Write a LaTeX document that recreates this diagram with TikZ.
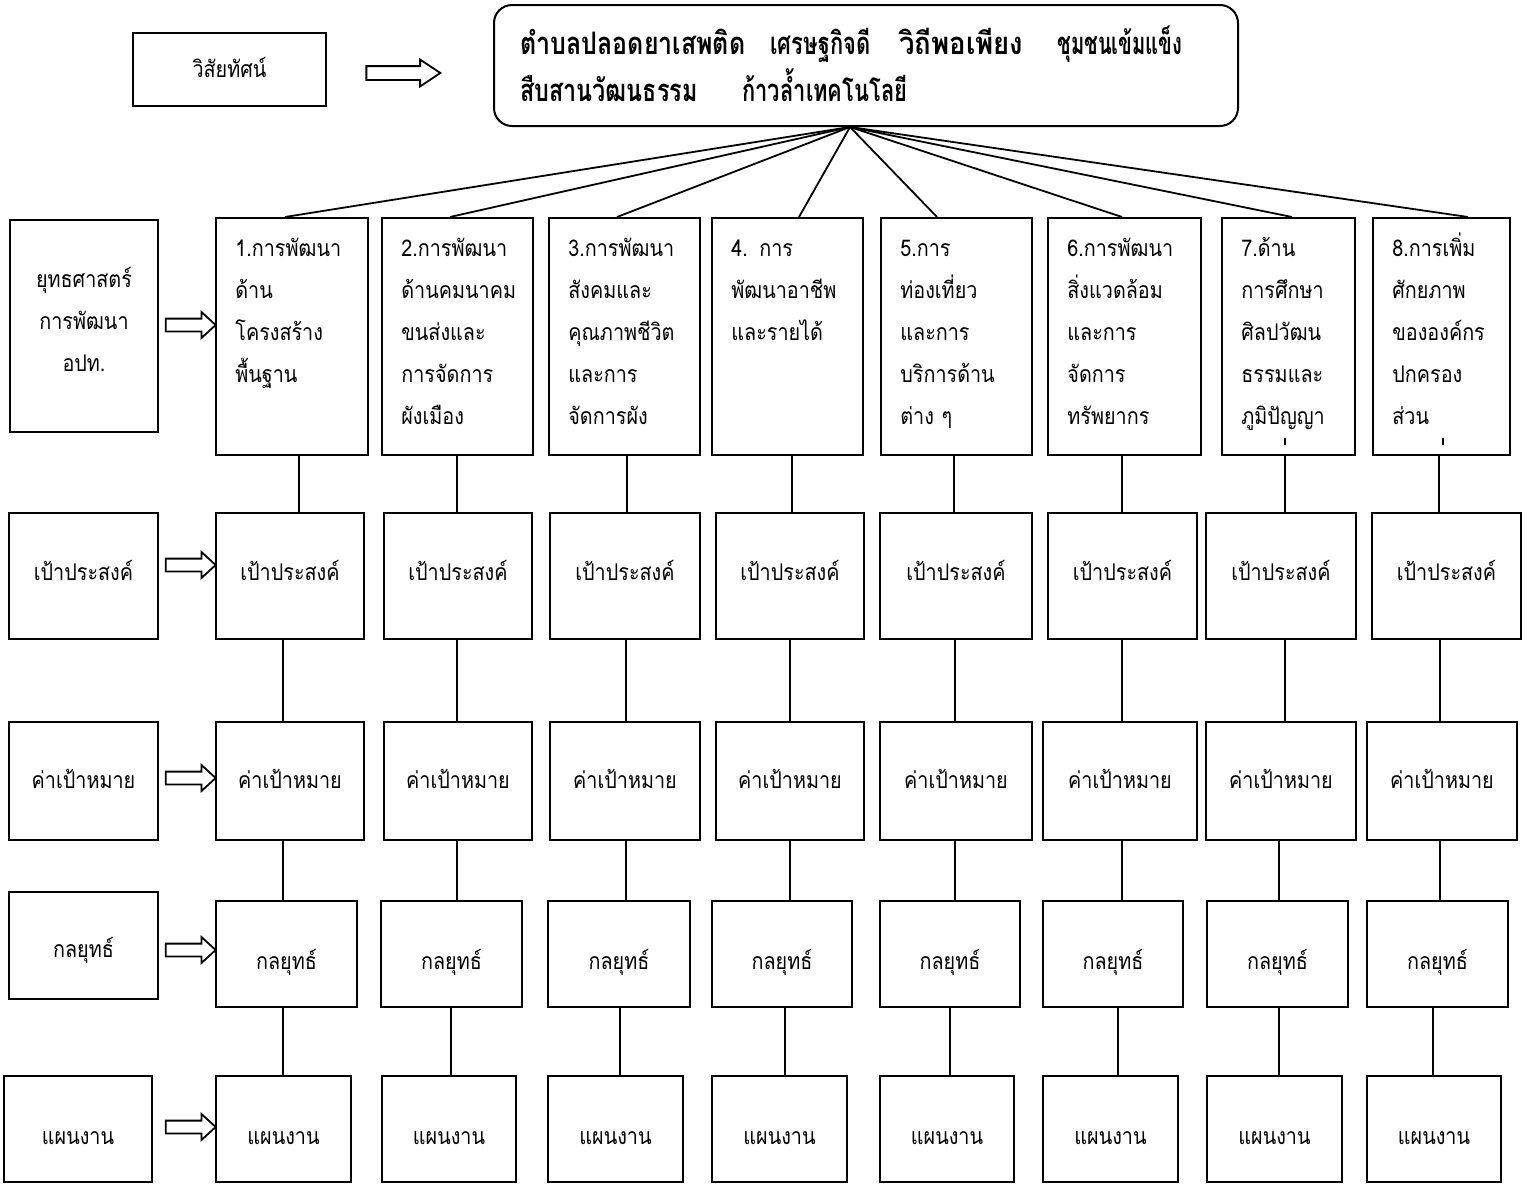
\documentclass[tikz,border=0pt]{standalone}
\usepackage{fontspec}
\usepackage{graphicx}
\newfontfamily\thaifont[Script=Thai, FakeStretch=0.86]{Loma}
\newfontfamily\thaibold[Script=Thai]{Loma}
\usetikzlibrary{shapes.arrows,calc}
\tikzset{
  bx/.style={draw, line width=1pt, inner sep=0pt},
  btext/.style={font=\thaifont\fontsize{11.5}{21}\selectfont, align=center, inner sep=0pt},
  ctext/.style={font=\thaifont\fontsize{11.5}{21}\selectfont, text width=68pt, align=left, inner sep=0pt, anchor=base west},
  toptext/.style={font=\thaibold\bfseries\fontsize{15.5}{24}\selectfont, inner sep=0pt, anchor=base west},
  conn/.style={line width=0.9pt},
  barrow/.style={draw, line width=0.9pt, single arrow, single arrow head extend=3.25pt, inner xsep=0pt, inner ysep=2.75pt, minimum height=25pt, single arrow tip angle=85, anchor=tip},
}
% \bx[text shift in pt]{name}{x1}{x2}{y1}{y2}{text}
\newcommand\bx[7][0]{%
  \node[bx,minimum width={(#4-#3)*0.5pt},minimum height={(#6-#5)*0.5pt}] (#2) at ({(#3+#4)/2},{(#5+#6)/2}) {};
  \node[btext] (#2t) at ([yshift=#1pt]#2.center) {#7};}
\newcommand\tw[2]{\resizebox{#1}{\height}{#2}}
\begin{document}
\begin{tikzpicture}[x=0.5pt,y=-0.5pt]
\useasboundingbox (0,0) rectangle (1527,1184);
% vision
\bx[1]{vis}{133}{326}{33}{106}{วิสัยทัศน์}
\node[bx, rounded corners=9pt, minimum width=372pt, minimum height=60.5pt] (top) at (866,65.5) {};
\node[toptext] (w1) at (520,54) {\tw{112.5pt}{ตำบลปลอดยาเสพติด}};
\node[toptext] (w2) at (770,54) {\tw{50pt}{เศรษฐกิจดี}};
\node[toptext] (w3) at (899,54) {\tw{62pt}{วิถีพอเพียง}};
\node[toptext] (w4) at (1057,54) {\tw{62.5pt}{ชุมชนเข้มแข็ง}};
\node[toptext] (w5) at (520,101) {\tw{88.5pt}{สืบสานวัฒนธรรม}};
\node[toptext] (w6) at (742,101) {\tw{82.5pt}{ก้าวล้ำเทคโนโลยี}};
\node[barrow, minimum height=37pt, inner ysep=3pt, single arrow tip angle=67] (va) at (442,73) {};
\coordinate (hub) at ([xshift=-8pt]top.south);
% left labels
\bx[3.5]{L1}{10}{158}{220}{432}{ยุทธศาสตร์\\การพัฒนา\\อปท.}
\bx[3]{L2}{9}{158}{513}{639}{เป้าประสงค์}
\bx[1]{L3}{9}{158}{722}{840}{ค่าเป้าหมาย}
\bx[-2.5]{L4}{9}{158}{892}{999}{กลยุทธ์}
\bx[-4.5]{L5}{4}{152}{1076}{1182}{แผนงาน}
% row 1
\foreach \i/\a/\b/\t in {
  1/216/368/{1.การพัฒนา\\ด้าน\\โครงสร้าง\\พื้นฐาน},
  2/382/533/{2.การพัฒนา\\ด้านคมนาคม\\ขนส่งและ\\การจัดการ\\ผังเมือง},
  3/549/700/{3.การพัฒนา\\สังคมและ\\คุณภาพชีวิต\\และการ\\จัดการผัง},
  4/712/863/{4. การ\\พัฒนาอาชีพ\\และรายได้},
  5/881/1032/{5.การ\\ท่องเที่ยว\\และการ\\บริการด้าน\\ต่าง ๆ},
  6/1048/1201/{6.การพัฒนา\\สิ่งแวดล้อม\\และการ\\จัดการ\\ทรัพยากร},
  7/1222/1355/{7.ด้าน\\การศึกษา\\ศิลปวัฒน\\ธรรมและ\\ภูมิปัญญา},
  8/1373/1510/{8.การเพิ่ม\\ศักยภาพ\\ขององค์กร\\ปกครอง\\ส่วน}}{
  \node[bx,minimum width={(\b-\a)*0.5pt},minimum height=118.5pt] (s\i) at ({(\a+\b)/2},336.5) {};
  \node[ctext] (s\i t) at ([shift={(10pt,-19.5pt)}]s\i.north west) {\t};
}
\draw[line width=0.9pt] ([shift={(-1.75pt,9pt)}]s7.south) -- ++(0,7);
\draw[line width=0.9pt] ([shift={(0.75pt,9pt)}]s8.south) -- ++(0,7);
% rows 2-5
\foreach \i/\a/\b in {1/216/364,2/384/532,3/550/700,4/716/864,5/880/1032,6/1048/1197,7/1206/1356,8/1372/1521}{
  \bx[3]{g\i}{\a}{\b}{513}{639}{เป้าประสงค์}}
\foreach \i/\a/\b in {1/216/364,2/384/532,3/550/700,4/716/864,5/880/1032,6/1043/1197,7/1206/1356,8/1367/1517}{
  \bx[1]{k\i}{\a}{\b}{722}{840}{ค่าเป้าหมาย}}
\foreach \i/\a/\b in {1/216/357,2/381/522,3/548/690,4/712/852,5/880/1020,6/1043/1183,7/1207/1348,8/1367/1508}{
  \bx[-4]{c\i}{\a}{\b}{901}{1007}{กลยุทธ์}}
\foreach \i/\a/\b in {1/216/351,2/382/516,3/548/683,4/712/847,5/880/1014,6/1043/1178,7/1207/1342,8/1367/1501}{
  \bx[-4.5]{p\i}{\a}{\b}{1076}{1182}{แผนงาน}}
% arrows
\node[barrow] (a1) at (217,325) {};
\node[barrow] (a2) at (217,565) {};
\node[barrow] (a3) at (217,778) {};
\node[barrow] (a4) at (217,950) {};
\node[barrow] (a5) at (217,1127) {};
% hub connectors
\foreach \i/\x in {1/285,2/450,3/617,4/799,5/937,6/1122,7/1292,8/1468}{
  \draw[conn] (hub) -- (\x,0 |- s\i.north);}
% vertical connectors
\foreach \i/\x in {1/299,2/457,3/627,4/792,5/954,6/1122,7/1285,8/1439}{
  \draw[conn] (\x,0 |- s\i.south) -- (\x,0 |- g\i.north);}
\foreach \i/\x in {1/283,2/457,3/626,4/790,5/955,6/1122,7/1285,8/1440}{
  \draw[conn] (\x,0 |- g\i.south) -- (\x,0 |- k\i.north);}
\foreach \i/\x in {1/283,2/457,3/626,4/790,5/955,6/1122,7/1279,8/1440}{
  \draw[conn] (\x,0 |- k\i.south) -- (\x,0 |- c\i.north);}
\foreach \i/\x in {1/283,2/451,3/620,4/785,5/950,6/1118,7/1279,8/1433}{
  \draw[conn] (\x,0 |- c\i.south) -- (\x,0 |- p\i.north);}
\end{tikzpicture}
\end{document}
